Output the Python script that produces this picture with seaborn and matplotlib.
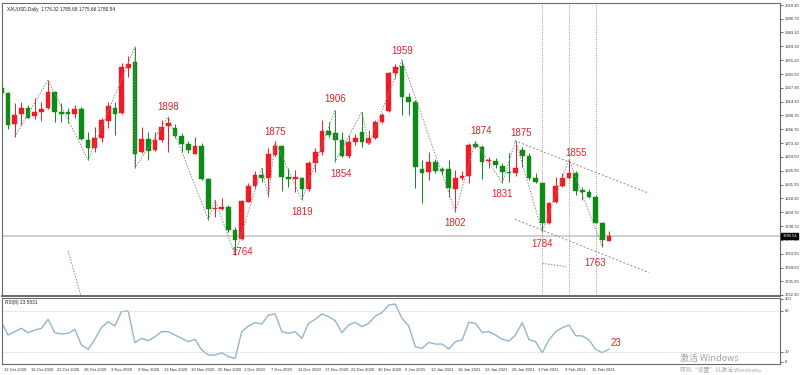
import numpy as np
import matplotlib
matplotlib.use('Agg')
import matplotlib.pyplot as plt
import matplotlib.transforms as mtrans
import seaborn as sns

sns.set_style('white')
plt.rcParams['font.family'] = ['Liberation Sans', 'Noto Sans CJK SC', 'DejaVu Sans']

# 일봉 데이터 (bar -1 = 9 Oct 2020 ... bar 90 = 17 Feb 2021)
opens = [1927.5, 1922.6, 1891.8, 1901.7, 1907.7, 1899.7, 1904.4, 1908.3, 1924.2, 1903.7,
         1903.7, 1901.7, 1907.0, 1875.9, 1868.0, 1877.9, 1895.1, 1907.7, 1902.7, 1947.4,
         1954.0, 1864.7, 1876.9, 1866.0, 1876.6, 1890.5, 1888.5, 1880.5, 1872.6, 1862.7,
         1870.6, 1837.5, 1807.7, 1807.7, 1810.0, 1786.9, 1777.9, 1815.0, 1830.9, 1841.5,
         1838.8, 1861.3, 1870.6, 1839.8, 1837.5, 1838.8, 1827.6, 1853.7, 1864.0, 1885.2,
         1883.5, 1876.2, 1860.7, 1873.9, 1883.8, 1872.9, 1878.5, 1894.4, 1905.0, 1942.4,
         1950.0, 1918.9, 1914.3, 1847.5, 1844.8, 1854.8, 1847.5, 1847.1, 1827.6, 1838.2,
         1840.5, 1872.0, 1869.7, 1855.1, 1855.4, 1850.5, 1844.8, 1843.2, 1866.4, 1860.7,
         1838.2, 1833.9, 1794.2, 1815.0, 1830.6, 1838.2, 1843.2, 1826.6, 1825.0, 1819.3,
         1794.2, 1776.32]
highs = [1934.2, 1923.6, 1912.6, 1914.3, 1911.0, 1918.3, 1914.3, 1935.8, 1924.9, 1912.6,
         1907.7, 1911.0, 1909.3, 1884.5, 1889.5, 1897.7, 1914.3, 1914.3, 1952.4, 1960.0,
         1968.9, 1889.5, 1884.5, 1884.5, 1896.1, 1899.4, 1891.8, 1882.9, 1875.2, 1879.5,
         1873.0, 1838.2, 1816.7, 1818.3, 1811.7, 1790.2, 1816.7, 1833.2, 1845.5, 1848.1,
         1868.0, 1875.2, 1871.3, 1848.1, 1846.4, 1839.8, 1855.4, 1868.0, 1896.1, 1894.4,
         1906.0, 1884.5, 1881.2, 1881.9, 1904.4, 1886.2, 1896.1, 1902.7, 1944.1, 1951.4,
         1956.0, 1922.6, 1916.0, 1856.4, 1864.7, 1857.0, 1849.8, 1856.4, 1846.5, 1845.8,
         1873.6, 1875.0, 1871.3, 1859.7, 1858.0, 1853.1, 1863.0, 1875.6, 1869.7, 1863.0,
         1843.2, 1834.9, 1815.0, 1839.9, 1843.2, 1857.0, 1845.8, 1829.3, 1827.3, 1821.7,
         1795.2, 1785.68]
lows = [1921.6, 1887.2, 1879.5, 1891.1, 1897.7, 1897.1, 1895.1, 1907.0, 1894.4, 1894.4,
        1892.8, 1897.7, 1876.2, 1856.4, 1864.7, 1874.6, 1887.8, 1881.2, 1901.7, 1939.1,
        1848.1, 1863.0, 1856.4, 1865.3, 1874.6, 1864.7, 1877.9, 1864.0, 1863.0, 1862.0,
        1836.5, 1796.8, 1800.1, 1806.7, 1785.2, 1762.0, 1776.9, 1815.0, 1827.6, 1834.9,
        1820.0, 1860.7, 1825.6, 1829.9, 1824.9, 1816.7, 1825.6, 1844.8, 1861.3, 1879.5,
        1854.7, 1859.7, 1858.0, 1871.3, 1869.6, 1871.9, 1877.2, 1892.8, 1904.4, 1937.5,
        1901.0, 1901.1, 1828.3, 1813.4, 1836.6, 1843.2, 1841.5, 1820.0, 1805.0, 1836.6,
        1833.3, 1868.0, 1837.2, 1848.1, 1848.1, 1833.5, 1834.9, 1840.5, 1849.8, 1836.6,
        1833.3, 1785.3, 1792.9, 1814.1, 1830.0, 1837.2, 1821.7, 1816.7, 1818.4, 1793.5,
        1770.0, 1775.66]
closes = [1922.6, 1891.1, 1901.1, 1908.3, 1898.4, 1903.7, 1907.0, 1924.2, 1903.7, 1901.7,
          1901.7, 1907.0, 1877.2, 1868.0, 1878.5, 1895.8, 1909.7, 1902.4, 1949.1, 1951.4,
          1862.0, 1877.2, 1865.3, 1876.6, 1888.8, 1892.8, 1879.9, 1872.6, 1866.0, 1870.6,
          1837.5, 1807.7, 1808.7, 1810.0, 1786.9, 1777.0, 1815.7, 1830.9, 1841.5, 1838.8,
          1862.0, 1870.6, 1839.8, 1837.2, 1839.8, 1827.6, 1853.7, 1864.7, 1885.5, 1881.2,
          1876.2, 1860.7, 1873.9, 1878.5, 1873.9, 1878.5, 1894.4, 1901.0, 1942.4, 1949.1,
          1918.9, 1914.3, 1849.1, 1843.2, 1854.8, 1845.5, 1845.8, 1828.3, 1838.2, 1840.5,
          1871.3, 1869.7, 1854.8, 1856.4, 1851.5, 1844.2, 1843.2, 1848.1, 1860.7, 1838.2,
          1834.9, 1793.5, 1814.1, 1830.6, 1838.2, 1843.8, 1826.0, 1825.0, 1819.3, 1794.2,
          1777.0, 1780.54]

rsi = [63.9, 44.4, 49.3, 54.2, 47.8, 51.7, 54.2, 67.4, 47.8, 45.9,
       46.9, 52.7, 29.8, 23.4, 38.1, 55.6, 63.9, 57.6, 78.6, 79.6,
       33.2, 39.5, 36.1, 42.0, 49.3, 49.3, 44.4, 39.5, 34.7, 38.1,
       22.5, 15.1, 15.1, 18.6, 12.7, 10.3, 49.3, 57.6, 62.5, 60.5,
       73.7, 75.2, 49.3, 46.9, 49.3, 39.5, 61.5, 67.4, 75.2, 71.3,
       65.4, 47.8, 59.1, 63.0, 56.6, 61.5, 72.2, 77.1, 88.3, 89.8,
       68.8, 57.6, 27.3, 24.9, 33.7, 31.2, 31.2, 23.9, 34.7, 37.1,
       63.0, 61.5, 48.3, 49.3, 44.4, 38.1, 35.6, 44.4, 62.5, 38.1,
       34.7, 18.6, 37.1, 49.3, 55.2, 59.1, 43.4, 43.0, 37.1, 23.4,
       18.6, 23.58]

date_labels = ['12 Oct 2020', '16 Oct 2020', '22 Oct 2020', '28 Oct 2020', '3 Nov 2020',
               '9 Nov 2020', '13 Nov 2020', '19 Nov 2020', '25 Nov 2020', '1 Dec 2020',
               '7 Dec 2020', '11 Dec 2020', '17 Dec 2020', '23 Dec 2020', '30 Dec 2020',
               '6 Jan 2021', '12 Jan 2021', '18 Jan 2021', '22 Jan 2021', '28 Jan 2021',
               '3 Feb 2021', '9 Feb 2021', '15 Feb 2021']
price_ticks = [2010.30, 1996.70, 1983.10, 1969.10, 1955.20, 1941.50, 1927.90, 1914.30,
               1900.70, 1886.70, 1873.10, 1859.50, 1845.90, 1831.90, 1818.30, 1804.70,
               1790.70, 1777.10, 1763.50, 1749.50, 1735.90, 1722.30]

# 지그재그 전환점 (bar, H/L)
zigzag = [(1, 'L'), (6, 'H'), (12, 'L'), (19, 'H'), (19, 'L'), (24, 'H'), (30, 'L'),
          (31, 'H'), (34, 'L'), (38, 'H'), (39, 'L'), (40, 'H'), (44, 'L'), (49, 'H'),
          (49, 'L'), (53, 'H'), (54, 'L'), (59, 'H'), (67, 'L'), (70, 'H'), (74, 'L'),
          (76, 'H'), (80, 'L'), (84, 'H'), (89, 'L')]
pivot_texts = [(24, 'H', '1898'), (40, 'H', '1875'), (49, 'H', '1906'), (59, 'H', '1959'),
               (49, 'L', '1854'), (44, 'L', '1819'), (34, 'L', '1764'), (67, 'L', '1802'),
               (70, 'H', '1874'), (74, 'L', '1831'), (76, 'H', '1875'), (80, 'L', '1784'),
               (84, 'H', '1855'), (89, 'L', '1763')]
# 라벨 위치 오프셋 (픽셀 dx, dy)
pivot_offsets = [(0, 10), (0, 9.5), (0, 11.5), (0, 9), (6, -12.5), (0, -12), (7, 3.5),
                 (0, -11.5), (6, 10.5), (0, -11), (6, 7.5), (0, -12.5), (7, 6.5), (-7, -16)]

channel_x = [75.9, 96.0]
channel_upper = [1875.5, 1823.3]
channel_lower = [1797.5, 1744.5]
stray_x = [9.0, 10.9]
stray_y = [1766.0, 1722.0]
short_x = [80.0, 83.6]
short_y = [1753.8, 1750.4]
vlines_at = [80, 84, 88]
last_price = 1780.54

RED = '#EE1C25'
GREEN = '#0E8A16'
LABEL_RED = '#D6262C'
GRAY = '#8a8a8a'

bars = np.arange(-1, len(opens) - 1)
o = np.array(opens); h = np.array(highs); l = np.array(lows); c = np.array(closes)
cols = np.where(c >= o, RED, GREEN)

fig = plt.figure(figsize=(8, 3.75), dpi=100)
ax = fig.add_axes([2 / 800, 1 - 296 / 375, 778 / 800, 293 / 375])
ax_rsi = fig.add_axes([2 / 800, 1 - 364 / 375, 778 / 800, 66 / 375])

# 캔들
ax.vlines(bars, l, h, colors=cols, lw=0.7, zorder=3)
ax.bar(bars, np.maximum(np.abs(c - o), 0.9), bottom=np.minimum(o, c), width=0.7,
       color=cols, edgecolor=cols, linewidth=0.3, zorder=4)

# 현재가 라인
ax.axhline(last_price, color='#c8c8c8', lw=1.2, zorder=1)
for v in vlines_at:
    ax.axvline(v, color=GRAY, lw=0.6, linestyle=(0, (1.2, 1.5)), zorder=2)

# 지그재그
zx = [b for b, k in zigzag]
zy = [h[b + 1] if k == 'H' else l[b + 1] for b, k in zigzag]
sns.lineplot(x=zx, y=zy, ax=ax, color=GRAY, lw=0.7, linestyle=(0, (1.5, 1.5)),
             sort=False, estimator=None, zorder=5)
dash = (0, (2, 2))
ax.plot(channel_x, channel_upper, color=GRAY, lw=0.7, linestyle=dash)
ax.plot(channel_x, channel_lower, color=GRAY, lw=0.7, linestyle=dash)
ax.plot(stray_x, stray_y, color=GRAY, lw=0.7, linestyle=(0, (1.5, 1.5)))
ax.plot(short_x, short_y, color=GRAY, lw=0.7, linestyle=(0, (1.5, 1.5)))

for (b, k, t), (dx, dy) in zip(pivot_texts, pivot_offsets):
    py = h[b + 1] if k == 'H' else l[b + 1]
    ax.annotate(t, xy=(b, py), xytext=(dx * 0.72, dy * 0.72), textcoords='offset points',
                ha='center', va='center', fontsize=7, color=LABEL_RED, zorder=6)

ax.set_xlim(-0.9, 115.6)
ax.set_ylim(1721.3, 2012.3)
ax.yaxis.tick_right()
ax.set_yticks(price_ticks)
ax.set_yticklabels(['%.2f' % p for p in price_ticks])
ax.tick_params(axis='y', labelsize=3, length=2, pad=1.5, colors='#333333', width=0.5)
ax.set_xticks([])
for s in ax.spines.values():
    s.set_color('#6a6a6a'); s.set_linewidth(0.8)
ax.spines['bottom'].set_linewidth(1.4)
ax.text(1.003, last_price, '%.2f' % last_price, transform=ax.get_yaxis_transform(),
        fontsize=3, color='white', va='center', ha='left', zorder=10,
        bbox=dict(boxstyle='square,pad=0.25', fc='black', ec='black'))
ax.text(0.006, 0.985, 'XAUUSD,Daily  1776.32 1785.68 1775.66 1780.54',
        transform=ax.transAxes, fontsize=3.4, va='top', ha='left', color='#222222')

# RSI
sns.lineplot(x=bars, y=rsi, ax=ax_rsi, color='#93B6CB', lw=1.0, estimator=None)
for lev in (80, 20):
    ax_rsi.axhline(lev, color='#cfcfcf', lw=0.6, linestyle=(0, (1.5, 1.5)))
ax_rsi.annotate('23', xy=(bars[-1], rsi[-1]), xytext=(6.5 * 0.72, 6.6 * 0.72),
                textcoords='offset points', ha='center', va='center', fontsize=7,
                color=LABEL_RED)
ax_rsi.text(0.004, 0.97, 'RSI(8) 23.5831', transform=ax_rsi.transAxes, fontsize=3.4,
            va='top', ha='left', color='#222222')
ax_rsi.set_xlim(-0.9, 115.6)
ax_rsi.set_ylim(2.0, 98.6)
ax_rsi.yaxis.tick_right()
ax_rsi.set_yticks([97.2, 80, 20, 5.4])
ax_rsi.set_yticklabels(['100', '80', '20', '0'])
ax_rsi.tick_params(axis='y', labelsize=3, length=2, pad=1.5, colors='#333333', width=0.5)
ax_rsi.set_xticks(np.arange(0, 4 * len(date_labels), 4))
ax_rsi.set_xticklabels(date_labels)
ax_rsi.tick_params(axis='x', labelsize=3.0, length=2, pad=1, colors='#333333', width=0.5)
shift = mtrans.ScaledTranslation(-4 / 100, 0, fig.dpi_scale_trans)
for lab in ax_rsi.get_xticklabels():
    lab.set_horizontalalignment('left')
    lab.set_transform(lab.get_transform() + shift)
for s in ax_rsi.spines.values():
    s.set_color('#6a6a6a'); s.set_linewidth(0.8)

# 워터마크
fig.text(680 / 800, 1 - 358 / 375, '激活 Windows', fontsize=6.5, color='#a0a0a0',
         va='center', ha='left', family=['Noto Sans CJK SC', 'DejaVu Sans'])
fig.text(680 / 800, 1 - 370 / 375, '转到“设置”以激活 Windows。', fontsize=4.2, color='#a8a8a8',
         va='center', ha='left', family=['Noto Sans CJK SC', 'DejaVu Sans'])

fig.savefig('out.png', dpi=100, facecolor='white')
